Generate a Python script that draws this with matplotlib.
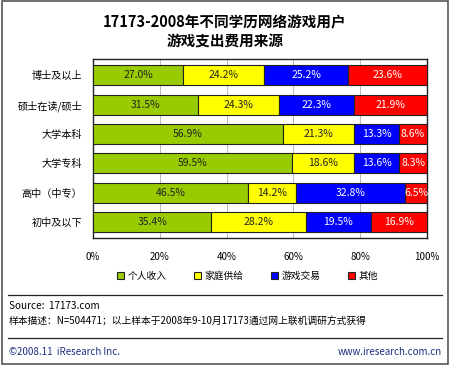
import numpy as np
import matplotlib.pyplot as plt

plt.rcParams['font.family'] = ['Noto Sans CJK SC', 'DejaVu Sans']

# data
categories = ["博士及以上", "硕士在读/硕士", "大学本科", "大学专科", "高中（中专）", "初中及以下"]
series_names = ["个人收入", "家庭供给", "游戏交易", "其他"]
personal = [27.0, 31.5, 56.9, 59.5, 46.5, 35.4]
family = [24.2, 24.3, 21.3, 18.6, 14.2, 28.2]
trade = [25.2, 22.3, 13.3, 13.6, 32.8, 19.5]
other = [23.6, 21.9, 8.6, 8.3, 6.5, 16.9]
colors = ["#99CC00", "#FFFF00", "#0000FF", "#FF0000"]
text_colors = ["#222222", "#222222", "white", "white"]

fig = plt.figure(figsize=(4.5, 3.65), dpi=100)
fig.patch.set_facecolor("white")

# outer frame
frame = plt.Rectangle((0.004, 0.004), 0.992, 0.992, transform=fig.transFigure,
                      fill=False, edgecolor="#555555", linewidth=1.2)
fig.add_artist(frame)

ax = fig.add_axes([0.207, 0.348, 0.742, 0.49])

y = np.arange(len(categories))
left = np.zeros(len(categories))
for vals, c, tc, name in zip([personal, family, trade, other], colors, text_colors, series_names):
    vals = np.array(vals)
    ax.barh(y, vals, left=left, height=0.68, color=c, edgecolor="#222222",
            linewidth=0.8, label=name, zorder=3)
    for yi, l, v in zip(y, left, vals):
        ax.text(l + v / 2, yi, f"{v:.1f}%", ha="center", va="center",
                fontsize=7.5, color=tc, zorder=4)
    left += vals

ax.set_xlim(0, 100)
ax.set_ylim(len(categories) - 0.5 + 0.05, -0.5 - 0.05)
ax.set_yticks(y)
ax.set_yticklabels(categories, fontsize=7.3)
ax.set_xticks([0, 20, 40, 60, 80, 100])
ax.set_xticklabels(["0%", "20%", "40%", "60%", "80%", "100%"], fontsize=7)
ax.tick_params(length=0, pad=8)
ax.tick_params(axis="x", pad=10)
ax.xaxis.grid(True, color="#BBBBBB", linewidth=0.7, zorder=0)
for s in ax.spines.values():
    s.set_color("#222222")
    s.set_linewidth(1.0)

fig.text(0.5, 0.94, "17173-2008年不同学历网络游戏用户", ha="center", va="center",
         fontsize=10.5, fontweight="bold")
fig.text(0.5, 0.885, "游戏支出费用来源", ha="center", va="center",
         fontsize=10.5, fontweight="bold")

fig.legend(loc="center", bbox_to_anchor=(0.55, 0.245), ncol=4, frameon=False,
           fontsize=7, handlelength=0.7, handleheight=0.7, columnspacing=2.8,
           handletextpad=0.4)

# separator lines
fig.add_artist(plt.Line2D([0.018, 0.982], [0.192, 0.192], transform=fig.transFigure,
                          color="#222222", linewidth=0.9))
fig.add_artist(plt.Line2D([0.018, 0.982], [0.075, 0.075], transform=fig.transFigure,
                          color="#222222", linewidth=0.9))

fig.text(0.02, 0.163, "Source:  17173.com", fontsize=7.2, va="center")
fig.text(0.02, 0.118, "样本描述：N=504471；以上样本于2008年9-10月17173通过网上联机调研方式获得",
         fontsize=7, va="center")
fig.text(0.02, 0.035, "©2008.11  iResearch Inc.", fontsize=7, va="center", color="#1F2F80")
fig.text(0.982, 0.035, "www.iresearch.com.cn", fontsize=7, va="center", ha="right",
         color="#1F2F80")

fig.savefig("out.png", dpi=100)
